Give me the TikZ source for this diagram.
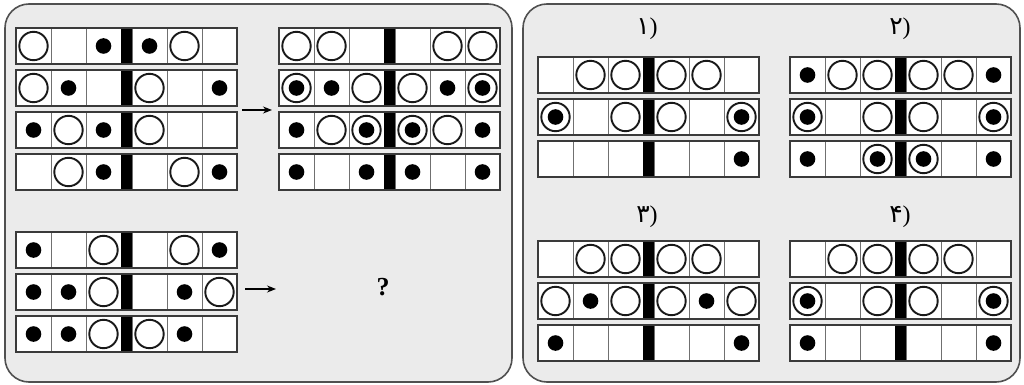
\documentclass[tikz,border=0pt]{standalone}
\usepackage{fontspec}
\setmainfont{Liberation Serif}
\newfontfamily\arabicfont[Script=Arabic]{DejaVu Sans}
\usetikzlibrary{arrows.meta}
\definecolor{panelbg}{HTML}{EBEBEB}
\definecolor{panelline}{HTML}{505050}
\definecolor{cellgray}{HTML}{707070}
\definecolor{framegray}{HTML}{3A3A3A}
\tikzset{
  panel/.style={draw=panelline,fill=panelbg,line width=1.6pt,rounded corners=24pt},
  cellline/.style={draw=cellgray,line width=0.9pt,fill=white},
  rowframe/.style={draw=framegray,line width=1.4pt},
  ring/.style={draw=black!90,line width=1.9pt},
  dotfill/.style={fill=black},
  conn/.style={line width=1.2pt,-{Stealth[length=9pt,width=7pt]}},
  optlabel/.style={inner sep=0pt,font=\fontsize{24}{24}\selectfont},
}
\newcommand\pdigit[1]{{\arabicfont\fontsize{25}{25}\selectfont #1}}
\newcommand\puzrow[3]{%
  \begin{scope}[shift={(#1,#2)}]
    \foreach \v [count=\i] in {#3}{%
      \pgfmathsetmacro\cx{(\i-0.5)*35+(\i>3)*11}%
      \draw[cellline] (\cx-17.5,0) rectangle (\cx+17.5,36);
      \ifcase\v\relax
      \or \draw[ring] (\cx,18) circle (14.2pt);
      \or \fill[dotfill] (\cx,18) circle (7.8pt);
      \or \draw[ring] (\cx,18) circle (14.2pt); \fill[dotfill] (\cx,18) circle (7.8pt);
      \fi
    }
    \fill (105,0) rectangle (116,36);
    \draw[rowframe] (0,0) rectangle (221,36);
  \end{scope}}
\begin{document}
\begin{tikzpicture}[x=1pt,y=-1pt]
\useasboundingbox (0,0) rectangle (1024,385);
% panels
\draw[panel] (5,4) rectangle (512,382);
\draw[panel] (523,4) rectangle (1020,382);
% top-left input
\puzrow{16}{28}{1,0,2,2,1,0}
\puzrow{16}{70}{1,2,0,1,0,2}
\puzrow{16}{112}{2,1,2,1,0,0}
\puzrow{16}{154}{0,1,2,0,1,2}
% top-right output
\puzrow{279}{28}{1,1,0,0,1,1}
\puzrow{279}{70}{3,2,1,1,2,3}
\puzrow{279}{112}{2,1,3,3,1,2}
\puzrow{279}{154}{2,0,2,2,0,2}
% bottom input
\puzrow{16}{232}{2,0,1,0,1,2}
\puzrow{16}{274}{2,2,1,0,2,1}
\puzrow{16}{316}{2,2,1,1,2,0}
% arrows
\coordinate (a1s) at (242,110);
\coordinate (a1e) at (272,110);
\coordinate (a2s) at (245,289);
\coordinate (a2e) at (276,289);
\draw[conn] (a1s) -- (a1e);
\draw[conn] (a2s) -- (a2e);
\node[inner sep=0pt,font=\fontsize{26}{26}\selectfont\bfseries] (q) at (383,287) {?};
% options
\node[optlabel] (l1) at (647,29) {\pdigit{۱})};
\node[optlabel] (l2) at (900,29) {\pdigit{۲})};
\node[optlabel] (l3) at (647,217) {\pdigit{۳})};
\node[optlabel] (l4) at (900,217) {\pdigit{۴})};
% option 1
\puzrow{538}{57}{0,1,1,1,1,0}
\puzrow{538}{99}{3,0,1,1,0,3}
\puzrow{538}{141}{0,0,0,0,0,2}
% option 2
\puzrow{790}{57}{2,1,1,1,1,2}
\puzrow{790}{99}{3,0,1,1,0,3}
\puzrow{790}{141}{2,0,3,3,0,2}
% option 3
\puzrow{538}{241}{0,1,1,1,1,0}
\puzrow{538}{283}{1,2,1,1,2,1}
\puzrow{538}{325}{2,0,0,0,0,2}
% option 4
\puzrow{790}{241}{0,1,1,1,1,0}
\puzrow{790}{283}{3,0,1,1,0,3}
\puzrow{790}{325}{2,0,0,0,0,2}
\end{tikzpicture}
\end{document}
